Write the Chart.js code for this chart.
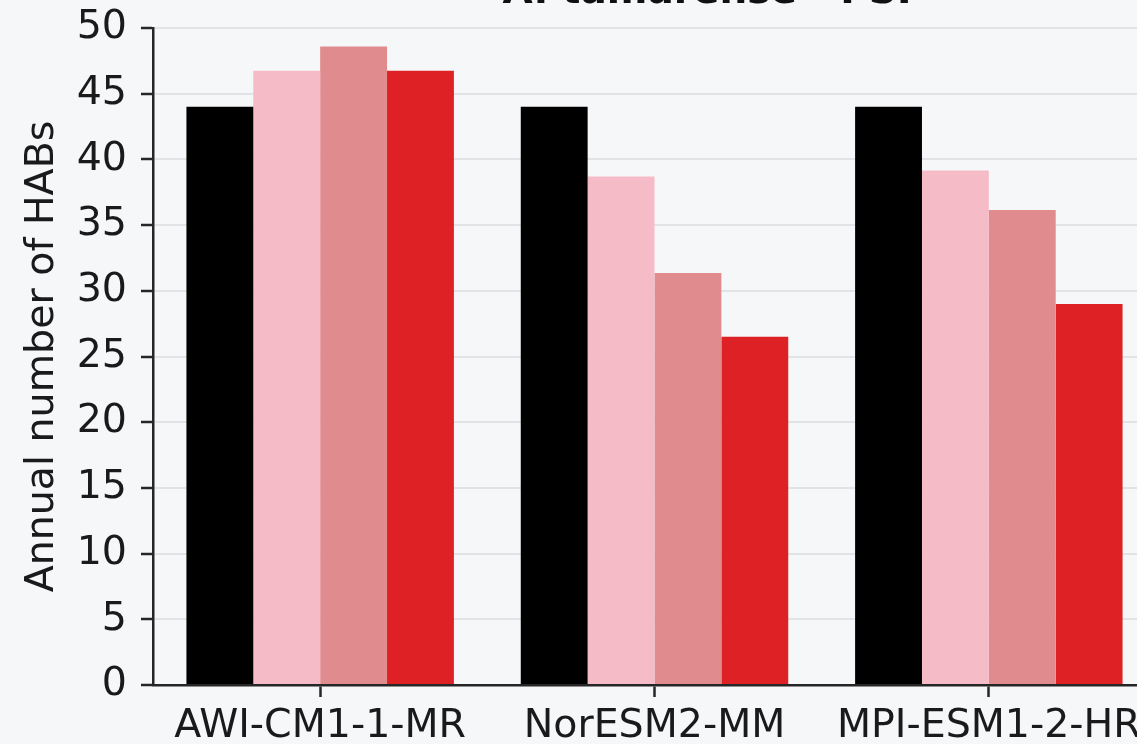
<!DOCTYPE html>
<html>
<head>
<meta charset="utf-8">
<script src="https://cdn.jsdelivr.net/npm/chart.js@4/dist/chart.umd.min.js"></script>
<style>
  html, body { margin: 0; padding: 0; background: #f6f7f9; overflow: hidden; width: 1137px; height: 744px; }
  #wrap { position: absolute; left: 0; top: -40px; width: 1300px; height: 790px; }
</style>
</head>
<body>
<div id="wrap"><canvas id="c" width="1300" height="790"></canvas></div>
<script>
// Annual number of HABs per climate model and period
const models = ['AWI-CM1-1-MR', 'NorESM2-MM', 'MPI-ESM1-2-HR'];
const historical = [44.0, 44.0, 44.0];
const ssp126 = [46.75, 38.7, 39.15];
const ssp245 = [48.6, 31.35, 36.15];
const ssp585 = [46.75, 26.5, 29.0];
const yTicks = [0, 5, 10, 15, 20, 25, 30, 35, 40, 45, 50];
const titleText = 'A. tamarense - PSP';

const FONT = "'DejaVu Sans', sans-serif";
const INK = '#1a1a1a';
const AXIS = '#262626';

const titlePlugin = {
  id: 'topTitle',
  afterDraw(chart) {
    const ctx = chart.ctx;
    ctx.save();
    ctx.font = "bold 39px " + FONT;
    ctx.fillStyle = '#111';
    ctx.textAlign = 'center';
    ctx.textBaseline = 'alphabetic';
    ctx.fillText(titleText, 714, 43);
    ctx.restore();
  }
};

new Chart(document.getElementById('c'), {
  type: 'bar',
  data: {
    labels: models,
    datasets: [
      { label: 'historical', data: historical, backgroundColor: '#000000' },
      { label: 'ssp126', data: ssp126, backgroundColor: '#f5bcc7' },
      { label: 'ssp245', data: ssp245, backgroundColor: '#e08b8d' },
      { label: 'ssp585', data: ssp585, backgroundColor: '#de2124' }
    ]
  },
  plugins: [titlePlugin],
  options: {
    responsive: false,
    devicePixelRatio: 1,
    animation: false,
    layout: { padding: { top: 68, right: 144, left: 0, bottom: 0 } },
    datasets: { bar: { categoryPercentage: 0.8, barPercentage: 1.0, borderWidth: 0 } },
    plugins: { legend: { display: false }, title: { display: false }, tooltip: { enabled: false } },
    scales: {
      x: {
        offset: true,
        grid: { offset: false, drawOnChartArea: false, tickLength: 12, tickColor: AXIS, tickWidth: 2.5 },
        border: { color: AXIS, width: 2.5 },
        ticks: { font: { family: FONT, size: 39.5 }, color: INK, padding: 6, maxRotation: 0 },
        afterFit(scale) { scale.height = 65; }
      },
      y: {
        min: 0,
        max: 50,
        afterBuildTicks(scale) { scale.ticks = yTicks.map(v => ({ value: v })); },
        grid: { color: '#e2e3e6', lineWidth: 2, tickLength: 12, tickColor: AXIS, tickWidth: 2.5 },
        border: { color: AXIS, width: 2.5 },
        ticks: { font: { family: FONT, size: 39.5 }, color: INK, padding: 14 },
        title: {
          display: true,
          text: 'Annual number of HABs',
          font: { family: FONT, size: 39.5 },
          color: INK,
          padding: { top: 19, bottom: 0 }
        },
        afterFit(scale) { scale.width = 153; }
      }
    }
  }
});
</script>
</body>
</html>
